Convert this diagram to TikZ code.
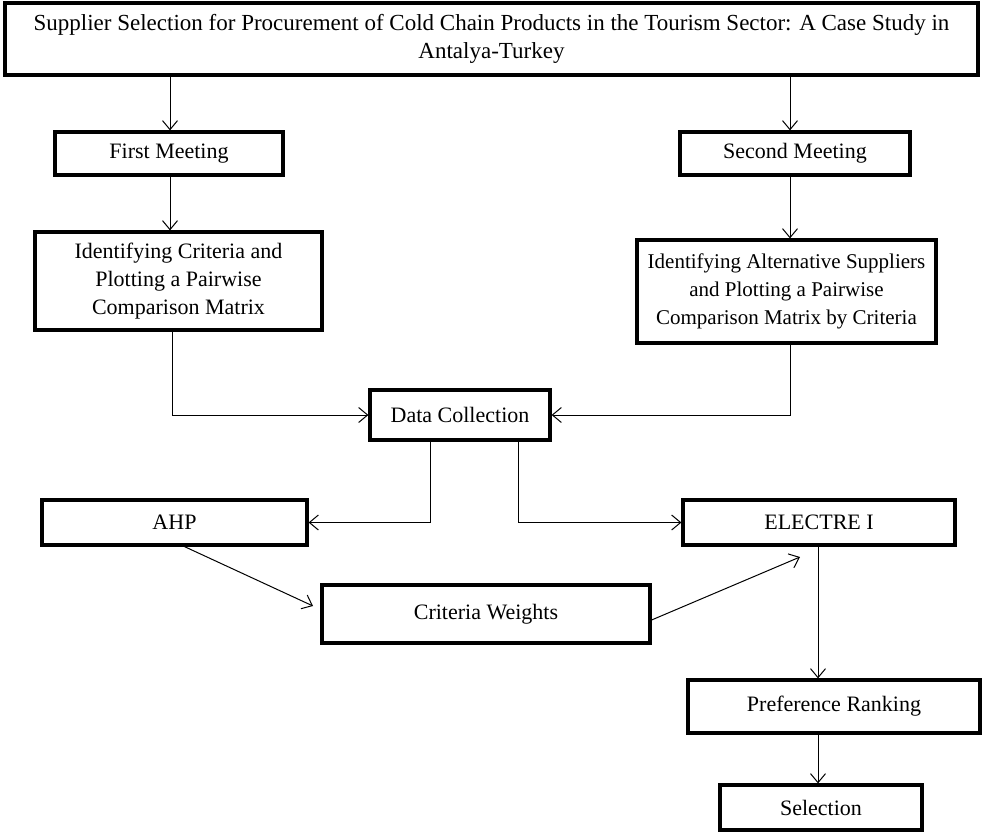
\documentclass[tikz,border=0pt]{standalone}
\usepackage{fontspec}
\setmainfont{Liberation Serif}
\usetikzlibrary{arrows.meta}
\begin{document}
\begin{tikzpicture}[x=1pt,y=-1pt,
  box/.style={draw, line width=3.2pt, inner sep=1pt, align=center, font=\fontsize{22}{28}\selectfont},
  arr/.style={line width=1pt, -{Straight Barb[length=9pt,width=15pt,line width=1pt]}}]
\useasboundingbox (0,0) rectangle (983,835);
\node[box, minimum width=973, minimum height=72, font=\fontsize{23}{28}\selectfont] (title) at (491.5,39) {Supplier Selection for Procurement of Cold Chain Products in the Tourism Sector: A Case Study in\\Antalya-Turkey};
\node[box, minimum width=228, minimum height=43] (first) at (169,153.5) {First Meeting};
\node[box, minimum width=230, minimum height=43] (second) at (795,153.5) {Second Meeting};
\node[box, minimum width=287, minimum height=98] (idcrit) at (178.5,281) {Identifying Criteria and\\Plotting a Pairwise\\Comparison Matrix};
\node[box, minimum width=299, minimum height=103, font=\fontsize{21}{28}\selectfont] (idalt) at (786.5,291.5) {Identifying Alternative Suppliers\\and Plotting a Pairwise\\Comparison Matrix by Criteria};
\node[box, minimum width=180, minimum height=50] (data) at (460,415) {Data Collection};
\node[box, minimum width=265, minimum height=45] (ahp) at (174.5,522.5) {AHP};
\node[box, minimum width=272, minimum height=45] (electre) at (819,522.5) {ELECTRE I};
\node[box, minimum width=328, minimum height=58] (critw) at (486,614) {Criteria Weights};
\node[box, minimum width=292, minimum height=53] (pref) at (834,706.5) {Preference Ranking};
\node[box, minimum width=202, minimum height=45] (sel) at (821,807.5) {Selection};
\coordinate (ctip) at (800,557);
\coordinate (atip) at (313,606);

\draw[arr] (title.south -| 170,0) -- (first.north -| 170,0);
\draw[arr] (title.south -| 790,0) -- (second.north -| 790,0);
\draw[arr] (first.south -| 170,0) -- (idcrit.north -| 170,0);
\draw[arr] (second.south -| 790,0) -- (idalt.north -| 790,0);
\draw[arr] (idcrit.south -| 172,0) |- (data.west);
\draw[arr] (idalt.south -| 790,0) |- (data.east);
\draw[arr] (data.south -| 430,0) |- (ahp.east);
\draw[arr] (data.south -| 518,0) |- (electre.west);
\draw[arr] ([xshift=10pt]ahp.south) -- (atip);
\draw[arr] ([yshift=-6pt]critw.east) -- (ctip);
\draw[arr] (electre.south -| 818,0) -- (pref.north -| 818,0);
\draw[arr] (pref.south -| 818,0) -- (sel.north -| 818,0);
\end{tikzpicture}
\end{document}
